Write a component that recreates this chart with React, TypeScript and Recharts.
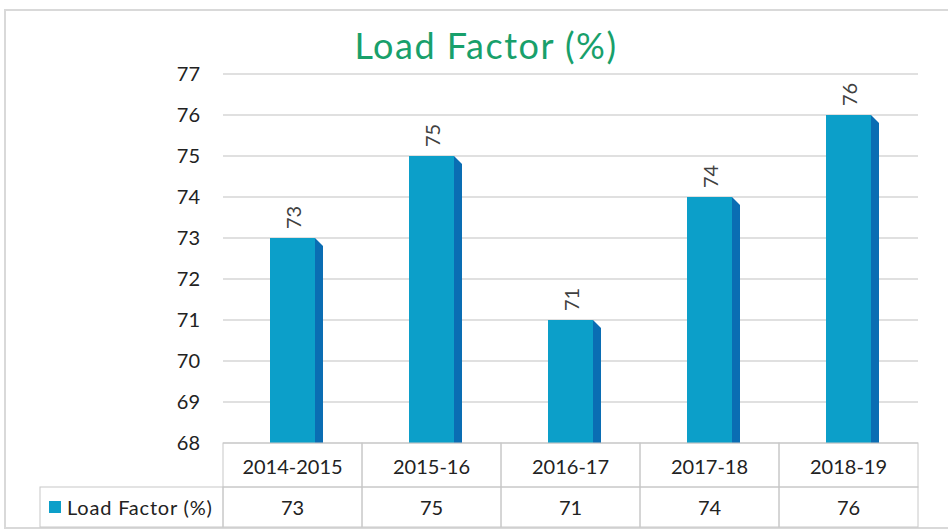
import { BarChart, Bar, XAxis, YAxis, CartesianGrid, LabelList, Customized } from "recharts";

const categories = ["2014-2015", "2015-16", "2016-17", "2017-18", "2018-19"];
const loadFactor = [73, 75, 71, 74, 76];
const yTicks = [68, 69, 70, 71, 72, 73, 74, 75, 76, 77];

const seriesName = "Load Factor (%)";
const FONT = "Lato, 'Open Sans', sans-serif";
const FRONT = "#0c9fc9";
const SIDE = "#0a6db3";
const BAND = 139;

const data = categories.map((c, i) => ({ name: c, value: loadFactor[i] }));

const Bar3D = (props: any) => {
  const { x, y, width, height } = props;
  if (height <= 0) return null;
  const d = 8;
  return (
    <g>
      <rect x={x} y={y} width={width} height={height} fill={FRONT} />
      <polygon
        points={`${x + width},${y} ${x + width + d},${y + d} ${x + width + d},${y + height} ${x + width},${y + height}`}
        fill={SIDE}
      />
    </g>
  );
};

const BarLabel = (props: any) => {
  const { x, y, width, value } = props;
  const cx = x + width / 2;
  const ty = y - 9;
  return (
    <text
      x={cx}
      y={ty}
      transform={`rotate(-90 ${cx} ${ty})`}
      textAnchor="start"
      dominantBaseline="central"
      fontSize={20}
      fontFamily={FONT}
      fill="#404040"
    >
      {value}
    </text>
  );
};

const TableTick = (props: any) => {
  const { x, y, payload } = props;
  const i = payload.index;
  const left = x - BAND / 2;
  const border = "#c8c8c8";
  return (
    <g>
      <rect x={left} y={y} width={BAND} height={44} fill="none" stroke={border} />
      <rect x={left} y={y + 44} width={BAND} height={40} fill="none" stroke={border} />
      <text x={x} y={y + 23} textAnchor="middle" dominantBaseline="central" fontSize={20} fontFamily={FONT} fill="#222">
        {payload.value}
      </text>
      <text x={x} y={y + 64} textAnchor="middle" dominantBaseline="central" fontSize={20} fontFamily={FONT} fill="#222">
        {loadFactor[i]}
      </text>
      {i === 0 && (
        <g>
          <rect x={40} y={y + 44} width={left - 40} height={40} fill="none" stroke={border} />
          <rect x={49} y={y + 58} width={12} height={12} fill={FRONT} />
          <text x={67} y={y + 64} dominantBaseline="central" fontSize={20} letterSpacing={0.8} fontFamily={FONT} fill="#222">
            {seriesName}
          </text>
        </g>
      )}
    </g>
  );
};

const Frame = () => (
  <g>
    <rect x={5} y={10} width={950} height={518} fill="none" stroke="#d9d9d9" strokeWidth={2} />
    <text x={486} y={45} textAnchor="middle" dominantBaseline="central" fontSize={36} letterSpacing={1.5} fontFamily={FONT} fill="#18a06b">
      Load Factor (%)
    </text>
  </g>
);

export default function App() {
  return (
    <div style={{ position: "absolute", left: 0, top: 0, width: 948, height: 531, background: "#fff" }}>
      <BarChart width={948} height={531} data={data} margin={{ top: 74, right: 30, bottom: 4, left: 0 }} barSize={45}>
        <Customized component={Frame} />
        <CartesianGrid vertical={false} stroke="#d6d6d6" strokeWidth={1.5} />
        <YAxis
          width={223}
          domain={[68, 77]}
          ticks={yTicks}
          interval={0}
          axisLine={false}
          tickLine={false}
          tickSize={0}
          tickMargin={23}
          tick={{ fontSize: 20, fontFamily: FONT, fill: "#222" }}
        />
        <XAxis
          dataKey="name"
          height={84}
          interval={0}
          axisLine={false}
          tickLine={false}
          tickSize={0}
          tickMargin={0}
          tick={<TableTick />}
        />
        <Bar dataKey="value" shape={<Bar3D />} isAnimationActive={false}>
          <LabelList dataKey="value" content={<BarLabel />} />
        </Bar>
      </BarChart>
    </div>
  );
}
